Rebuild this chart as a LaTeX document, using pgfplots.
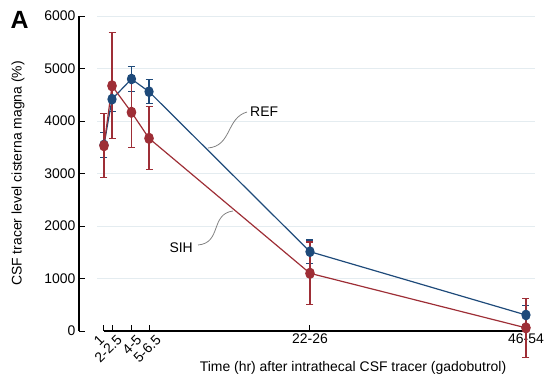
\documentclass[border=0pt]{standalone}
\usepackage{pgfplots}
\pgfplotsset{compat=1.18}
\usepackage{fontspec}
\setmainfont{Liberation Sans}

\definecolor{refblue}{RGB}{30,74,122}
\definecolor{sihred}{RGB}{158,46,54}
\definecolor{gridc}{RGB}{228,236,240}
\definecolor{leader}{RGB}{130,130,130}

% slanted tick label whose upper end sits #1 right of its tick
\newcommand\slant[2]{\makebox[0pt][r]{\rotatebox{45}{#2}\hspace*{-#1}}}

% time (hr), mean, error
\pgfplotstableread{
x      y     e
1      3545  240
1.93   4415  235
4.19   4800  232
6.23   4558  228
24.92  1511  222
50     305   185
}\refdata
\pgfplotstableread{
x      y     e
1      3530  610
1.93   4670  1010
4.19   4166  675
6.23   3670  600
24.92  1099  595
50     60    565
}\sihdata

\begin{document}
\begin{tikzpicture}
\path[use as bounding box] (-79bp,-52bp) rectangle (467bp,331bp);
\begin{axis}[
  at={(0,0)}, anchor=south west,
  scale only axis, width=456bp, height=315bp,
  xmin=-1.903, xmax=51.05, ymin=0, ymax=6000,
  clip=false,
  axis line style={draw=none},
  tick align=inside, major tick length=6bp,
  tick style={black, line width=1pt},
  xtick pos=bottom, ytick pos=left,
  ytick={0,1000,2000,3000,4000,5000,6000},
  yticklabels={0,1000,2000,3000,4000,5000,6000},
  scaled y ticks=false,
  xtick={1,1.93,4.19,6.23,24.92,50},
  xticklabels={\slant{1bp}{1},\slant{11bp}{2-2.5},\slant{11bp}{4-5},\slant{13bp}{5-6.5},22-26,46-54},
  xticklabel style={anchor=north, inner sep=3bp},
  tick label style={font=\fontsize{14}{16}\selectfont},
  /pgf/number format/assume math mode=true,
]
% light horizontal guides
\foreach \v in {1000,2000,3000,4000,5000,6000}{
  \edef\tmp{\noexpand\draw[gridc, line width=1pt] (axis cs:0.19,\v) -- (axis cs:51.05,\v);}
  \tmp
}
% axis lines
\draw[black, line width=1.1pt] (axis cs:-1.903,0) -- (axis cs:-1.903,6000);
\draw[black, line width=1.3pt] (axis cs:1,0) -- (axis cs:50,0);

\addplot[refblue, line width=1.2pt, mark=*, mark size=4bp,
  mark options={yscale=1.2, fill=refblue, draw=refblue},
  error bars/.cd, y dir=both, y explicit,
  error bar style={refblue, line width=1.2pt},
  error mark options={rotate=90, refblue, mark size=3.5bp, line width=1.2pt}]
  table[x=x, y=y, y error=e] {\refdata};
\addplot[sihred, line width=1.2pt, mark=*, mark size=4.2bp,
  mark options={yscale=1.2, fill=sihred, draw=sihred},
  error bars/.cd, y dir=both, y explicit,
  error bar style={sihred, line width=1.2pt},
  error mark options={rotate=90, sihred, mark size=3.5bp, line width=1.2pt}]
  table[x=x, y=y, y error=e] {\sihdata};
\end{axis}

% series callouts
\draw[leader, line width=0.8pt] (129bp,183bp) .. controls (153bp,185bp) and (147bp,213bp) .. (168bp,219bp);
\node[anchor=west, inner sep=1bp, font=\fontsize{14}{16}\selectfont] at (170bp,219bp) {REF};
\draw[leader, line width=0.8pt] (154bp,120bp) .. controls (131bp,117bp) and (143bp,88bp) .. (119bp,86bp);
\node[anchor=east, inner sep=1bp, font=\fontsize{14}{16}\selectfont] at (115bp,83bp) {SIH};

% axis titles and panel letter
\node[rotate=90, font=\fontsize{14}{16}\selectfont] at (-61bp,157.5bp) {CSF tracer level cisterna magna (\%)};
\node[font=\fontsize{14}{16}\selectfont] at (274bp,-37bp) {Time (hr) after intrathecal CSF tracer (gadobutrol)};
\node[font=\bfseries\fontsize{25}{28}\selectfont] at (-59.5bp,311bp) {A};
\end{tikzpicture}
\end{document}
